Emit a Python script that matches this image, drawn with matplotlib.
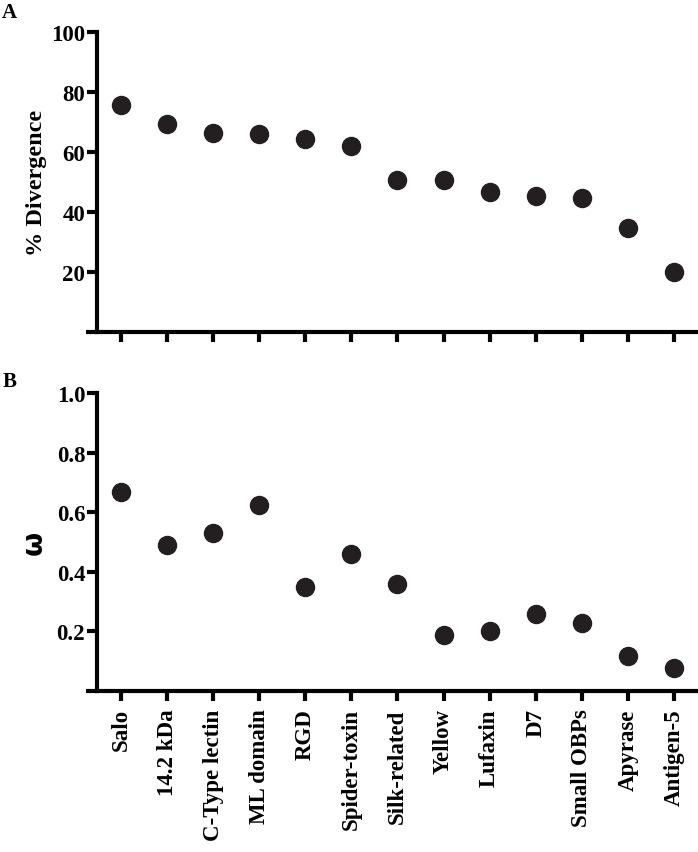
import matplotlib
matplotlib.use("Agg")
import matplotlib.pyplot as plt
import numpy as np

categories = ["Salo", "14.2 kDa", "C-Type lectin", "ML domain", "RGD", "Spider-toxin",
              "Silk-related", "Yellow", "Lufaxin", "D7", "Small OBPs", "Apyrase", "Antigen-5"]
divergence = [75.7, 69.2, 66.3, 66.1, 64.3, 61.9, 50.7, 50.5, 46.7, 45.2, 44.5, 34.5, 20.0]
omega = [0.668, 0.489, 0.529, 0.624, 0.350, 0.460, 0.359, 0.189, 0.200, 0.259, 0.229, 0.118, 0.077]
yticks_a = [20, 40, 60, 80, 100]
yticks_b = [0.2, 0.4, 0.6, 0.8, 1.0]

plt.rcParams['font.family'] = ['Liberation Serif', 'DejaVu Serif']
plt.rcParams['font.weight'] = 'bold'

W, H = 698, 853
fig = plt.figure(figsize=(W/100, H/100), dpi=100)

dark = '#231f20'
x = np.arange(len(categories))
left_px = 86
xl = (left_px - 121) / 46.08
xr = (698 - 121) / 46.08
spine_x = (97 - 121) / 46.08

def setup(ax, ymax, yticks, fmt):
    ax.set_xlim(xl, xr)
    ax.set_ylim(0, ymax)
    for s in ['top', 'right']:
        ax.spines[s].set_visible(False)
    for s in ['left', 'bottom']:
        ax.spines[s].set_linewidth(3.0)
        ax.spines[s].set_color('black')
    ax.spines['left'].set_position(('data', spine_x))
    ax.spines['bottom'].set_capstyle('butt')
    ax.set_xticks(x)
    ax.set_yticks(yticks)
    ax.set_yticklabels([fmt(v) for v in yticks])
    ax.tick_params(axis='both', length=7.5, width=3.0, color='black',
                   labelsize=16.5, pad=1)
    for lab in ax.get_yticklabels():
        lab.set_fontweight('bold')

axA = fig.add_axes([left_px/W, 1 - 332.5/H, (W-left_px)/W, (332.5-33.3)/H])
axA.plot(x, divergence, 'o', color=dark, markersize=13, linestyle='none', clip_on=False)
setup(axA, 100, yticks_a, lambda v: f"{v:d}")
axA.set_xticklabels([])
axA.set_ylabel('% Divergence', fontsize=17.5, fontweight='bold')
axA.yaxis.set_label_coords(-0.064, 0.5)

axB = fig.add_axes([left_px/W, 1 - 692/H, (W-left_px)/W, (692-394)/H])
axB.plot(x, omega, 'o', color=dark, markersize=13, linestyle='none', clip_on=False)
setup(axB, 1.0, yticks_b, lambda v: f"{v:.1f}")
axB.set_xticklabels(categories, rotation=90, fontsize=16.5, fontweight='bold')
axB.tick_params(axis='x', pad=5)
axB.set_ylabel('ω', fontsize=20, fontweight='bold', family=['DejaVu Sans'])
axB.yaxis.set_label_coords(-0.062, 0.5)

fig.text(2/W, 1 - 3/H, 'A', fontsize=15, fontweight='bold', va='top', ha='left')
fig.text(3/W, 1 - 372/H, 'B', fontsize=15, fontweight='bold', va='top', ha='left')

fig.savefig('out.png', dpi=100)
